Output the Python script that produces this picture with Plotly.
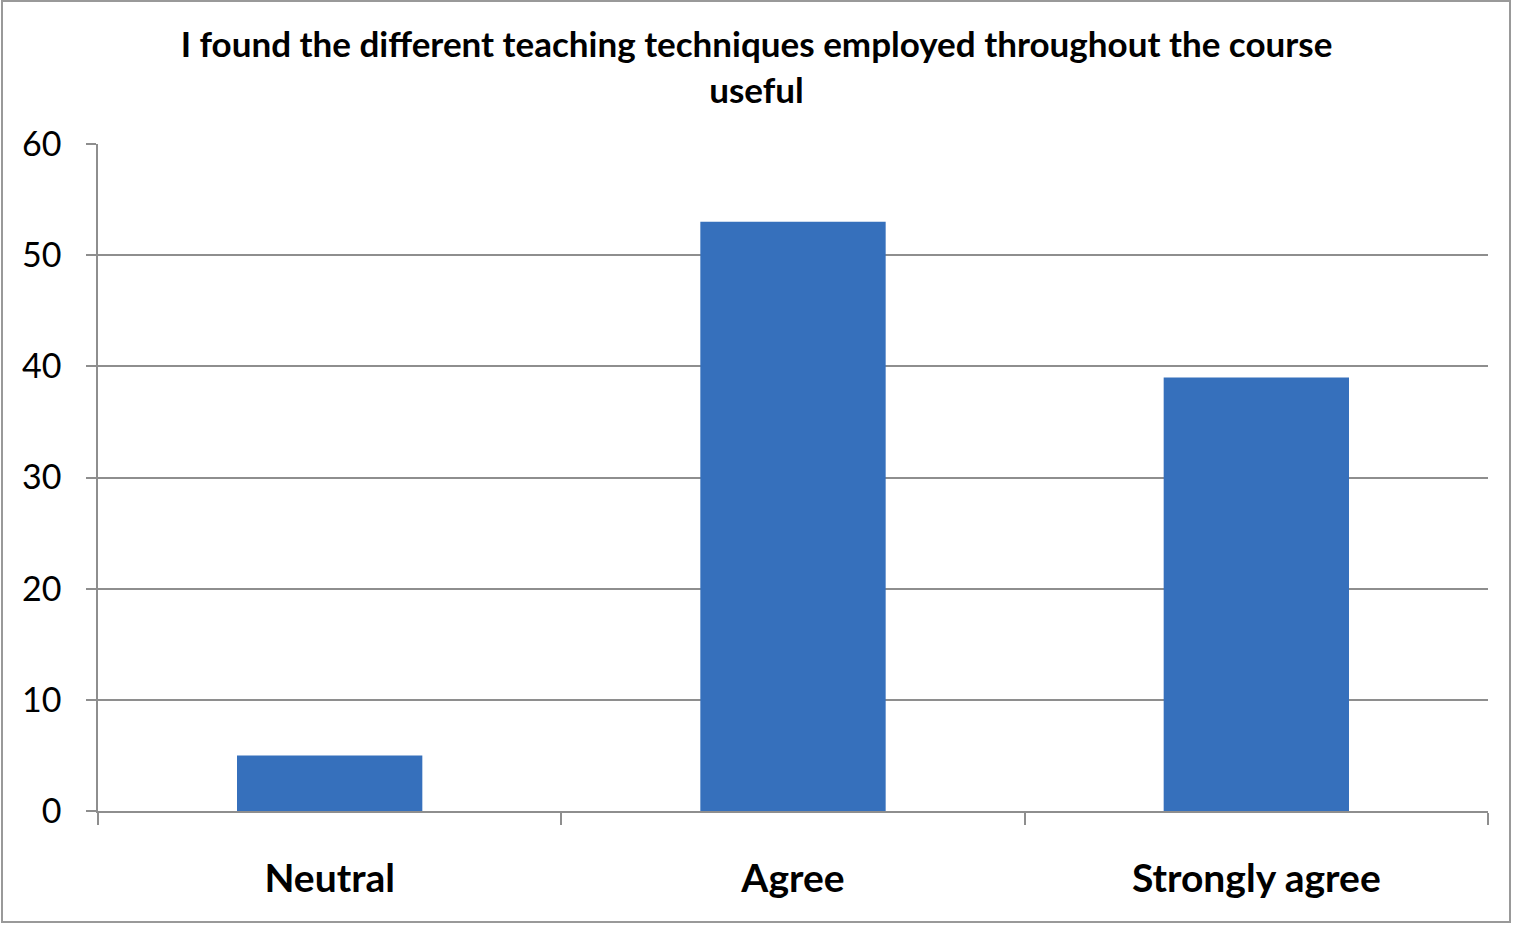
import plotly.graph_objects as go

categories = ["Neutral", "Agree", "Strongly agree"]
values = [5, 53, 39]
y_ticks = [0, 10, 20, 30, 40, 50, 60]
title_text = "I found the different teaching techniques employed throughout the course<br>useful"

W, H = 1513, 925
L, R, T, B = 98, 25, 144, 114
pw, ph = W - L - R, H - T - B

grid = "#8e8e8e"

fig = go.Figure()
fig.add_trace(go.Bar(
    x=categories, y=values,
    marker=dict(color="#3670bc", line=dict(width=0)),
    width=0.4,
    hoverinfo="x+y",
))

fig.update_layout(
    width=W, height=H,
    margin=dict(l=L, r=R, t=T, b=B),
    paper_bgcolor="white", plot_bgcolor="white",
    showlegend=False,
    font=dict(family="Lato", color="black"),
    title=dict(
        text=title_text,
        x=0.5, xanchor="center",
        y=1 - 57 / H, yanchor="middle", yref="container",
        font=dict(family="Lato", size=35, color="black", weight="bold"),
    ),
    xaxis=dict(
        type="category",
        range=[-0.5, 2.5],
        showgrid=False,
        showline=True, linecolor=grid, linewidth=1.5,
        ticks="outside", tickson="boundaries", ticklen=12, tickcolor=grid, tickwidth=1.5,
        tickfont=dict(family="Lato", size=39, color="black", weight="bold"),
        ticklabelstandoff=32,
    ),
    yaxis=dict(
        range=[0, 60],
        tickvals=y_ticks,
        showgrid=True, gridcolor=grid, gridwidth=1.5,
        zeroline=False,
        showline=True, linecolor=grid, linewidth=1.5,
        ticks="outside", ticklen=10, tickcolor=grid, tickwidth=1.5,
        tickfont=dict(family="Lato", size=34, color="black"),
        ticklabelstandoff=18,
    ),
    shapes=[dict(
        type="rect", xref="paper", yref="paper",
        x0=(2 - L) / pw, x1=(1510 - L) / pw,
        y0=(H - B - 922) / ph, y1=(H - B - 1) / ph,
        line=dict(color="#999999", width=2), fillcolor="rgba(0,0,0,0)",
        layer="below",
    )],
)

fig.write_html("out.html", config={"displayModeBar": False},
               post_script="document.body.style.margin='0';")
